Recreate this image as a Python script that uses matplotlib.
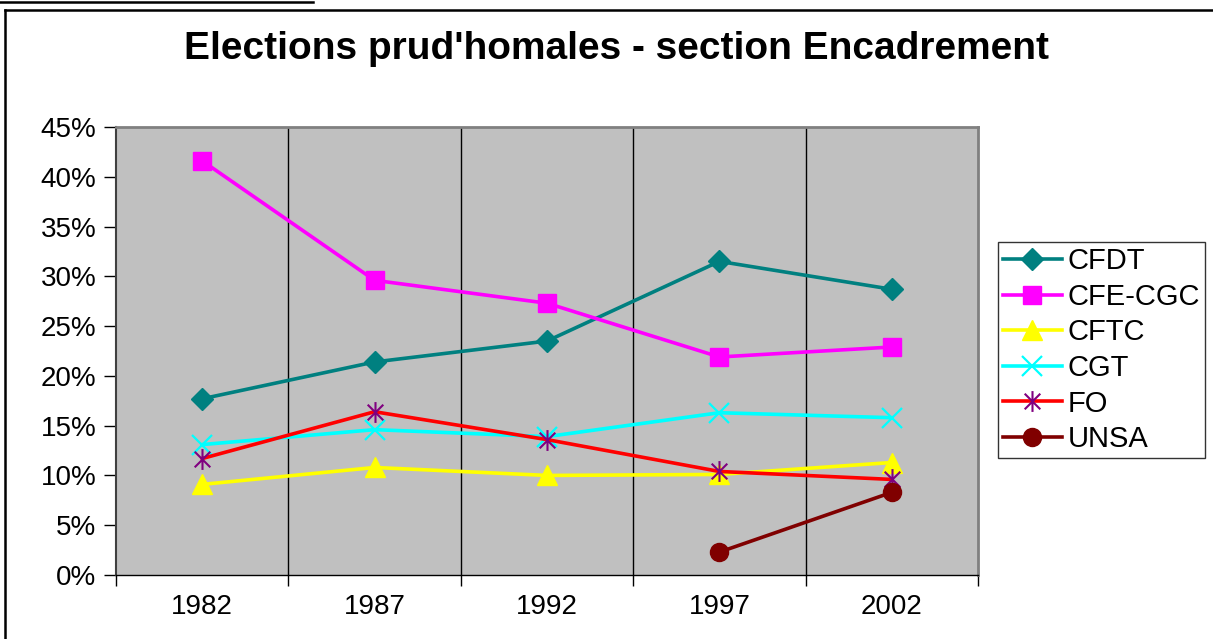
import matplotlib
matplotlib.use("Agg")
import matplotlib.pyplot as plt
from matplotlib.path import Path
from matplotlib.lines import Line2D
from matplotlib.ticker import FuncFormatter, FixedLocator

plt.rcParams["font.family"] = ["Liberation Sans", "DejaVu Sans"]

years = ["1982", "1987", "1992", "1997", "2002"]
cfdt = [17.7, 21.4, 23.5, 31.5, 28.7]
cfe_cgc = [41.6, 29.6, 27.3, 21.9, 22.9]
cftc = [9.1, 10.8, 10.0, 10.1, 11.3]
cgt = [13.1, 14.6, 13.9, 16.3, 15.8]
fo = [11.7, 16.4, 13.6, 10.4, 9.6]
unsa_years = ["1997", "2002"]
unsa = [2.3, 8.3]

W, H = 1213, 639
fig = plt.figure(figsize=(W / 100, H / 100), dpi=100)

# chart area frame (partially cut like the source)
fig.add_artist(Line2D([5 / W, 5 / W], [0, 1 - 10 / H], color="black", lw=1.8))
fig.add_artist(Line2D([5 / W, 1], [1 - 10 / H, 1 - 10 / H], color="black", lw=1.8))
fig.add_artist(Line2D([0, 313 / W], [1 - 2 / H, 1 - 2 / H], color="black", lw=1.8))

ax = fig.add_axes([116 / W, 1 - 575 / H, (978 - 116) / W, (575 - 127) / H])
ax.set_facecolor("#C0C0C0")

xpos = {y: i for i, y in enumerate(years)}
xs = list(range(len(years)))
ux = [xpos[y] for y in unsa_years]

# Excel style asterisk: vertical line plus an x
star = Path(
    [(0, -1), (0, 1), (-0.75, -0.75), (0.75, 0.75), (-0.75, 0.75), (0.75, -0.75)],
    [Path.MOVETO, Path.LINETO, Path.MOVETO, Path.LINETO, Path.MOVETO, Path.LINETO],
)

lw = 2.6
ax.plot(xs, cfdt, color="#008080", lw=lw, marker="D", ms=11, mfc="#008080", mec="#008080", label="CFDT")
ax.plot(xs, cfe_cgc, color="#FF00FF", lw=lw, marker="s", ms=13, mfc="#FF00FF", mec="#FF00FF", label="CFE-CGC")
ax.plot(xs, cftc, color="#FFFF00", lw=lw, marker="^", ms=14, mfc="#FFFF00", mec="#FFFF00", label="CFTC")
ax.plot(xs, cgt, color="#00FFFF", lw=lw, marker="x", ms=14, mew=1.6, mec="#00FFFF", label="CGT")
ax.plot(xs, fo, color="#FF0000", lw=lw, marker=star, ms=15, mew=1.5, mec="#800080", mfc="none", label="FO")
ax.plot(ux, unsa, color="#800000", lw=lw, marker="o", ms=13, mfc="#800000", mec="#800000", label="UNSA")

ax.set_xlim(-0.5, len(years) - 0.5)
ax.set_ylim(0, 45)
for b in [0.5, 1.5, 2.5, 3.5]:
    ax.axvline(b, color="black", lw=1.0, zorder=1)

ax.set_xticks(xs)
ax.set_xticklabels(years, fontsize=20)
ax.xaxis.set_minor_locator(FixedLocator([i - 0.5 for i in range(len(years) + 1)]))
ax.tick_params(axis="x", which="major", length=0, pad=14)
ax.tick_params(axis="x", which="minor", length=8, width=1, direction="out")

ax.set_yticks(range(0, 46, 5))
ax.yaxis.set_major_formatter(FuncFormatter(lambda v, p: f"{v:.0f}%"))
ax.tick_params(axis="y", length=9, width=1, direction="out", labelsize=20, pad=5)

for s in ["top", "right"]:
    ax.spines[s].set_color("#808080")
    ax.spines[s].set_linewidth(2)
ax.spines["left"].set_color("#404040")
ax.spines["left"].set_linewidth(1.5)
ax.spines["bottom"].set_color("black")
ax.spines["bottom"].set_linewidth(1)

fig.text(617 / W, 1 - 49 / H, "Elections prud'homales - section Encadrement",
         ha="center", va="center", fontsize=28, fontweight="bold")

leg = fig.legend(loc="upper left", bbox_to_anchor=(998 / W, 1 - 242 / H),
                 fontsize=21, frameon=True, fancybox=False, handlelength=2.0,
                 labelspacing=0.26, handletextpad=0.2, borderpad=0.18, borderaxespad=0)
leg.get_frame().set_edgecolor("black")
leg.get_frame().set_linewidth(1)

fig.savefig("out.png", dpi=100)
